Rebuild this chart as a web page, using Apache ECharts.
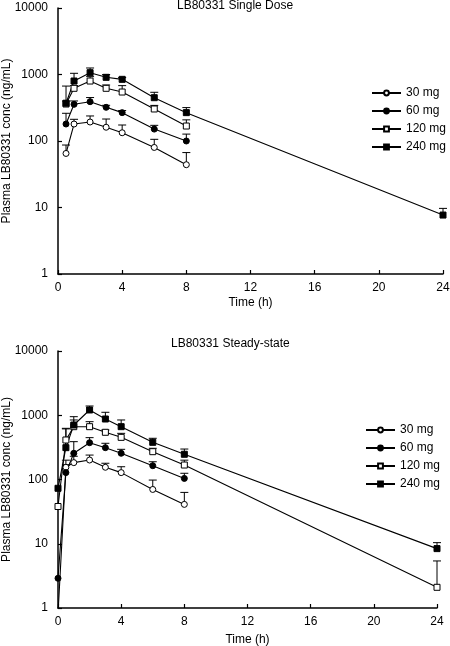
<!DOCTYPE html>
<html><head><meta charset="utf-8">
<script src="https://cdn.jsdelivr.net/npm/echarts@6/dist/echarts.min.js"></script>
<style>html,body{margin:0;padding:0;background:#fff}#c{width:450px;height:646px}</style>
</head><body><div id="c"></div>
<script>
// ---- Data ----
const doseNames = ['30 mg', '60 mg', '120 mg', '240 mg'];
const xTicks = [0, 4, 8, 12, 16, 20, 24];
const yTicks = [1, 10, 100, 1000, 10000];

// Single dose
const sdTimes = [0.5, 1, 2, 3, 4, 6, 8];
const sdTimes240 = [0.5, 1, 2, 3, 4, 6, 8, 24];
const sd30 = [65, 180, 193, 161, 133, 80, 44];
const sd30Err = [22, 32, 45, 53, 41, 26, 23];
const sd60 = [180, 356, 390, 321, 267, 151, 100];
const sd60Err = [81, 44, 60, 23, 20, 21, 27];
const sd120 = [360, 620, 798, 620, 545, 303, 168];
const sd120Err = [40, 60, 130, 75, 135, 40, 40];
const sd240 = [370, 798, 1065, 907, 846, 448, 267, 7.7];
const sd240Err = [300, 244, 188, 93, 54, 92, 51, 2];

// Steady state
const ssTimes = [0, 0.5, 1, 2, 3, 4, 6, 8];
const ssTimes24 = [0, 0.5, 1, 2, 3, 4, 6, 8, 24];
const ss30 = [0.8, 155, 183, 201, 155, 128, 70, 41];
const ss30Err = [0, 45, 47, 39, 24, 30, 28, 22];
const ss60 = [2.9, 128, 256, 374, 313, 256, 164, 104];
const ss60Err = [0, 42, 132, 74, 53, 39, 25, 21];
const ss120 = [38, 412, 664, 664, 543, 453, 271, 168, 2.1];
const ss120Err = [0, 214, 180, 130, 46, 70, 35, 32, 3.3];
const ss240 = [73, 313, 705, 1208, 874, 664, 379, 247, 8.4];
const ss240Err = [0, 300, 245, 185, 238, 180, 59, 51, 2];

// ---- Build ----
const styles = [
  {symbol: 'circle', fill: '#fff'},
  {symbol: 'circle', fill: '#000'},
  {symbol: 'rect', fill: '#fff'},
  {symbol: 'rect', fill: '#000'}
];
const FONT = 'Liberation Sans, Arial, sans-serif';

function lineSeries(name, idx, times, vals, gi) {
  return {
    type: 'line', name: name, xAxisIndex: gi, yAxisIndex: gi,
    data: times.map((t, i) => [t, vals[i]]),
    symbol: styles[idx].symbol, symbolSize: 6,
    itemStyle: {color: styles[idx].fill, borderColor: '#000', borderWidth: 1},
    lineStyle: {color: '#000', width: 1.1},
    clip: true, z: 3, animation: false
  };
}
function errSeries(idx, times, vals, errs, gi) {
  return {
    type: 'custom', name: 'err' + gi + '_' + idx, xAxisIndex: gi, yAxisIndex: gi,
    data: times.map((t, i) => [t, vals[i], errs[i]]),
    encode: {x: 0, y: 1},
    z: 2, animation: false, silent: true,
    renderItem: function (params, api) {
      const t = api.value(0), v = api.value(1), e = api.value(2);
      if (!e) return null;
      const p0 = api.coord([t, v]);
      const p1 = api.coord([t, v + e]);
      const st = {stroke: '#000', lineWidth: 1};
      return {type: 'group', children: [
        {type: 'line', shape: {x1: p0[0], y1: p0[1], x2: p1[0], y2: p1[1]}, style: st},
        {type: 'line', shape: {x1: p1[0] - 4, y1: p1[1], x2: p1[0] + 4, y2: p1[1]}, style: st}
      ]};
    }
  };
}

const grids = [
  {left: 58, top: 8, width: 385, height: 266, containLabel: false, outerBoundsMode: 'none'},
  {left: 58, top: 351, width: 379, height: 257, containLabel: false, outerBoundsMode: 'none'}
];
function xAxis(gi, gap) {
  return {
    type: 'value', gridIndex: gi, min: 0, max: 24, interval: 4,
    name: 'Time (h)', nameLocation: 'middle', nameGap: gap, nameMoveOverlap: false,
    nameTextStyle: {fontFamily: FONT, fontSize: 12, color: '#000'},
    axisLine: {lineStyle: {color: '#000', width: 1.5}},
    axisTick: {inside: true, length: 4, lineStyle: {color: '#000', width: 1.2}},
    axisLabel: {fontFamily: FONT, fontSize: 12, color: '#000', margin: 8},
    splitLine: {show: false}
  };
}
function yAxis(gi) {
  return {
    type: 'log', logBase: 10, gridIndex: gi, min: 1, max: 10000,
    name: 'Plasma LB80331 conc (ng/mL)', nameLocation: 'middle', nameGap: 45, nameMoveOverlap: false,
    nameTextStyle: {fontFamily: FONT, fontSize: 12, color: '#000'},
    axisLine: {show: true, onZero: false, lineStyle: {color: '#000', width: 1.5}},
    axisTick: {show: true, inside: true, length: 4, lineStyle: {color: '#000', width: 1.2}},
    axisLabel: {fontFamily: FONT, fontSize: 12, color: '#000', margin: 10,
      formatter: function (v) { return String(Math.round(v)); }},
    minorTick: {show: false},
    splitLine: {show: false}
  };
}

const series = [
  lineSeries(doseNames[0], 0, sdTimes, sd30, 0),
  lineSeries(doseNames[1], 1, sdTimes, sd60, 0),
  lineSeries(doseNames[2], 2, sdTimes, sd120, 0),
  lineSeries(doseNames[3], 3, sdTimes240, sd240, 0),
  errSeries(0, sdTimes, sd30, sd30Err, 0),
  errSeries(1, sdTimes, sd60, sd60Err, 0),
  errSeries(2, sdTimes, sd120, sd120Err, 0),
  errSeries(3, sdTimes240, sd240, sd240Err, 0),
  lineSeries(doseNames[0], 0, ssTimes, ss30, 1),
  lineSeries(doseNames[1], 1, ssTimes, ss60, 1),
  lineSeries(doseNames[2], 2, ssTimes24, ss120, 1),
  lineSeries(doseNames[3], 3, ssTimes24, ss240, 1),
  errSeries(0, ssTimes, ss30, ss30Err, 1),
  errSeries(1, ssTimes, ss60, ss60Err, 1),
  errSeries(2, ssTimes24, ss120, ss120Err, 1),
  errSeries(3, ssTimes24, ss240, ss240Err, 1)
];

function legend(left, top) {
  return {
    data: doseNames, orient: 'vertical', left: left, top: top,
    itemWidth: 29, itemHeight: 6, itemGap: 6, padding: 0,
    selectedMode: false,
    textStyle: {fontFamily: FONT, fontSize: 12, color: '#000'}
  };
}

const chart = echarts.init(document.getElementById('c'), null, {renderer: 'canvas'});
chart.setOption({
  animation: false,
  backgroundColor: '#fff',
  title: [
    {text: 'LB80331 Single Dose', left: 177, top: 0, padding: 0,
     textStyle: {fontFamily: FONT, fontSize: 12, fontWeight: 'normal', color: '#000'}},
    {text: 'LB80331 Steady-state', left: 171, top: 338, padding: 0,
     textStyle: {fontFamily: FONT, fontSize: 12, fontWeight: 'normal', color: '#000'}}
  ],
  legend: [legend(371, 87), legend(365, 424)],
  grid: grids,
  xAxis: [xAxis(0, 23), xAxis(1, 26)],
  yAxis: [yAxis(0), yAxis(1)],
  series: series
});
</script></body></html>
